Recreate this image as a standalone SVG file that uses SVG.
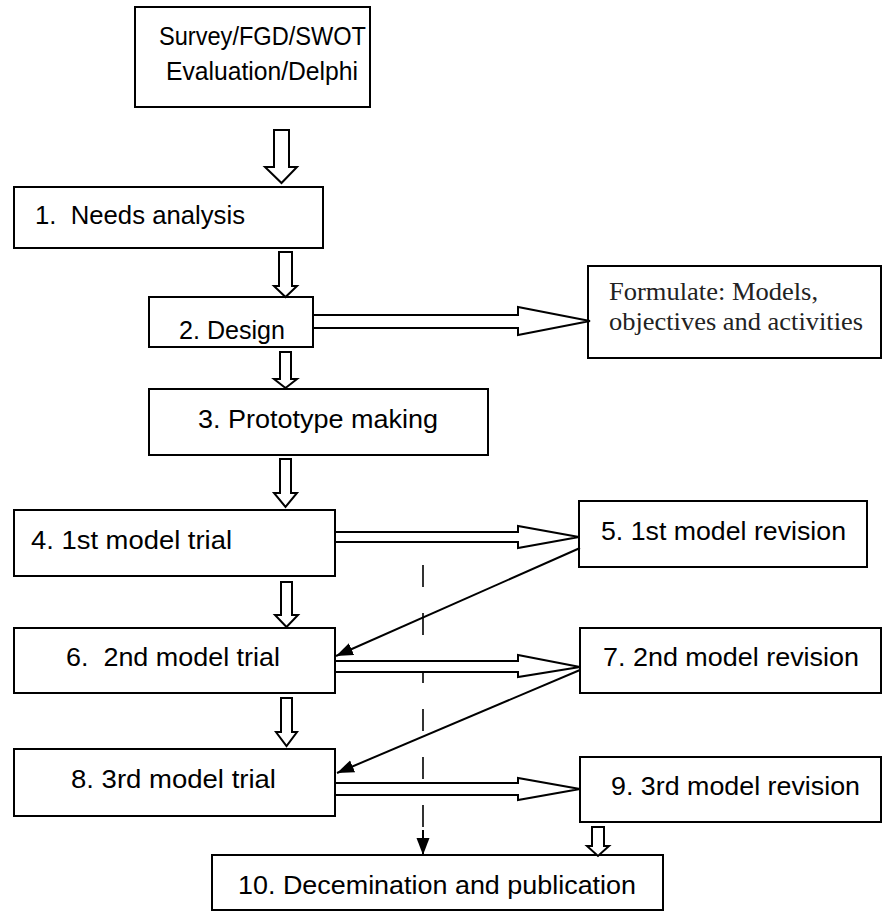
<svg xmlns="http://www.w3.org/2000/svg" width="883" height="912" viewBox="0 0 883 912">
<style>
.box{fill:#fff;stroke:#000;stroke-width:2}
.t{font-family:"Liberation Sans",Arial,sans-serif;font-size:26px;fill:#000}
.ts{font-family:"Liberation Serif","Times New Roman",serif;font-size:26px;fill:#222}
.hol{fill:#fff;stroke:#000;stroke-width:2;stroke-linejoin:miter}
.ln{fill:none;stroke:#000;stroke-width:2}
.dash{fill:none;stroke:#000;stroke-width:1.6;stroke-dasharray:22 26}
</style>
<defs>
<marker id="ah" markerUnits="userSpaceOnUse" markerWidth="18" markerHeight="14" refX="17" refY="6.5" orient="auto">
<path d="M0,0 L17,6.5 L0,13 Z" fill="#000"/>
</marker>
<clipPath id="c2"><rect x="149" y="297" width="164" height="49"/></clipPath>
</defs>
<g id="n0">
<rect class="box" x="135" y="7" width="235" height="100"/>
<text class="t" x="159" y="45" textLength="207" lengthAdjust="spacingAndGlyphs">Survey/FGD/SWOT</text>
<text class="t" x="166" y="80" textLength="192" lengthAdjust="spacingAndGlyphs">Evaluation/Delphi</text>
</g>
<g id="n1">
<rect class="box" x="14" y="187" width="309" height="61"/>
<text class="t" x="35" y="224" textLength="210" lengthAdjust="spacingAndGlyphs" xml:space="preserve">1.  Needs analysis</text>
</g>
<g id="n2">
<rect class="box" x="149" y="297" width="164" height="50"/>
<text class="t" x="179" y="339" textLength="106" lengthAdjust="spacingAndGlyphs" clip-path="url(#c2)">2. Design</text>
</g>
<g id="nf">
<rect class="box" x="588" y="266" width="293" height="92"/>
<text class="ts" x="609" y="300" textLength="209" lengthAdjust="spacingAndGlyphs">Formulate: Models,</text>
<text class="ts" x="609" y="330" textLength="254" lengthAdjust="spacingAndGlyphs">objectives and activities</text>
</g>
<g id="n3">
<rect class="box" x="149" y="389" width="339" height="66"/>
<text class="t" x="198" y="428" textLength="240" lengthAdjust="spacingAndGlyphs">3. Prototype making</text>
</g>
<g id="n4">
<rect class="box" x="14" y="510" width="321" height="66"/>
<text class="t" x="31" y="549" textLength="201" lengthAdjust="spacingAndGlyphs">4. 1st model trial</text>
</g>
<g id="n5">
<rect class="box" x="579" y="501" width="288" height="66"/>
<text class="t" x="601" y="540" textLength="245" lengthAdjust="spacingAndGlyphs">5. 1st model revision</text>
</g>
<g id="n6">
<rect class="box" x="14" y="628" width="321" height="65"/>
<text class="t" x="66" y="666" textLength="214" lengthAdjust="spacingAndGlyphs" xml:space="preserve">6.  2nd model trial</text>
</g>
<g id="n7">
<rect class="box" x="580" y="628" width="301" height="65"/>
<text class="t" x="603" y="666" textLength="256" lengthAdjust="spacingAndGlyphs">7. 2nd model revision</text>
</g>
<g id="n8">
<rect class="box" x="14" y="749" width="321" height="67"/>
<text class="t" x="71" y="788" textLength="205" lengthAdjust="spacingAndGlyphs">8. 3rd model trial</text>
</g>
<g id="n9">
<rect class="box" x="580" y="757" width="301" height="65"/>
<text class="t" x="611" y="795" textLength="249" lengthAdjust="spacingAndGlyphs">9. 3rd model revision</text>
</g>
<g id="n10">
<rect class="box" x="212" y="855" width="451" height="55"/>
<text class="t" x="238" y="894" textLength="398" lengthAdjust="spacingAndGlyphs">10. Decemination and publication</text>
</g>
<g id="connectors">
<line class="dash" x1="423" y1="565" x2="423" y2="827"/>
<line class="ln" x1="423" y1="830" x2="423" y2="855" stroke-width="1.6" marker-end="url(#ah)"/>
<path class="hol" d="M274,130 H289 V167 H297 L281.5,183 L265,167 H274 Z"/>
<path class="hol" d="M279,252 H292 V286 H297 L285.5,297 L274,286 H279 Z"/>
<path class="hol" d="M280,352 H291 V379 H297 L285.5,388 L274,379 H280 Z"/>
<path class="hol" d="M280,459 H291 V493 H297 L285.5,507 L274,493 H280 Z"/>
<path class="hol" d="M281,582 H292 V615 H298 L286.5,627 L275,615 H281 Z"/>
<path class="hol" d="M281,698 H292 V732 H297 L286.5,746 L276,732 H281 Z"/>
<path class="hol" d="M592,827 H604 V846 H609 L598,856 L587,846 H592 Z"/>
<path class="hol" d="M313,315 H518 V307 L590,321 L518,335 V328 H313 Z"/>
<path class="hol" d="M335,532 H518 V526 L579,537 L518,548 V542 H335 Z"/>
<path class="hol" d="M335,661 H518 V655 L580,667 L518,677 V672 H335 Z"/>
<path class="hol" d="M335,783 H518 V778 L580,789 L518,800 V795 H335 Z"/>
<line class="ln" x1="580" y1="548" x2="336" y2="656" marker-end="url(#ah)"/>
<line class="ln" x1="580" y1="670" x2="337" y2="773" marker-end="url(#ah)"/>
</g>
</svg>
